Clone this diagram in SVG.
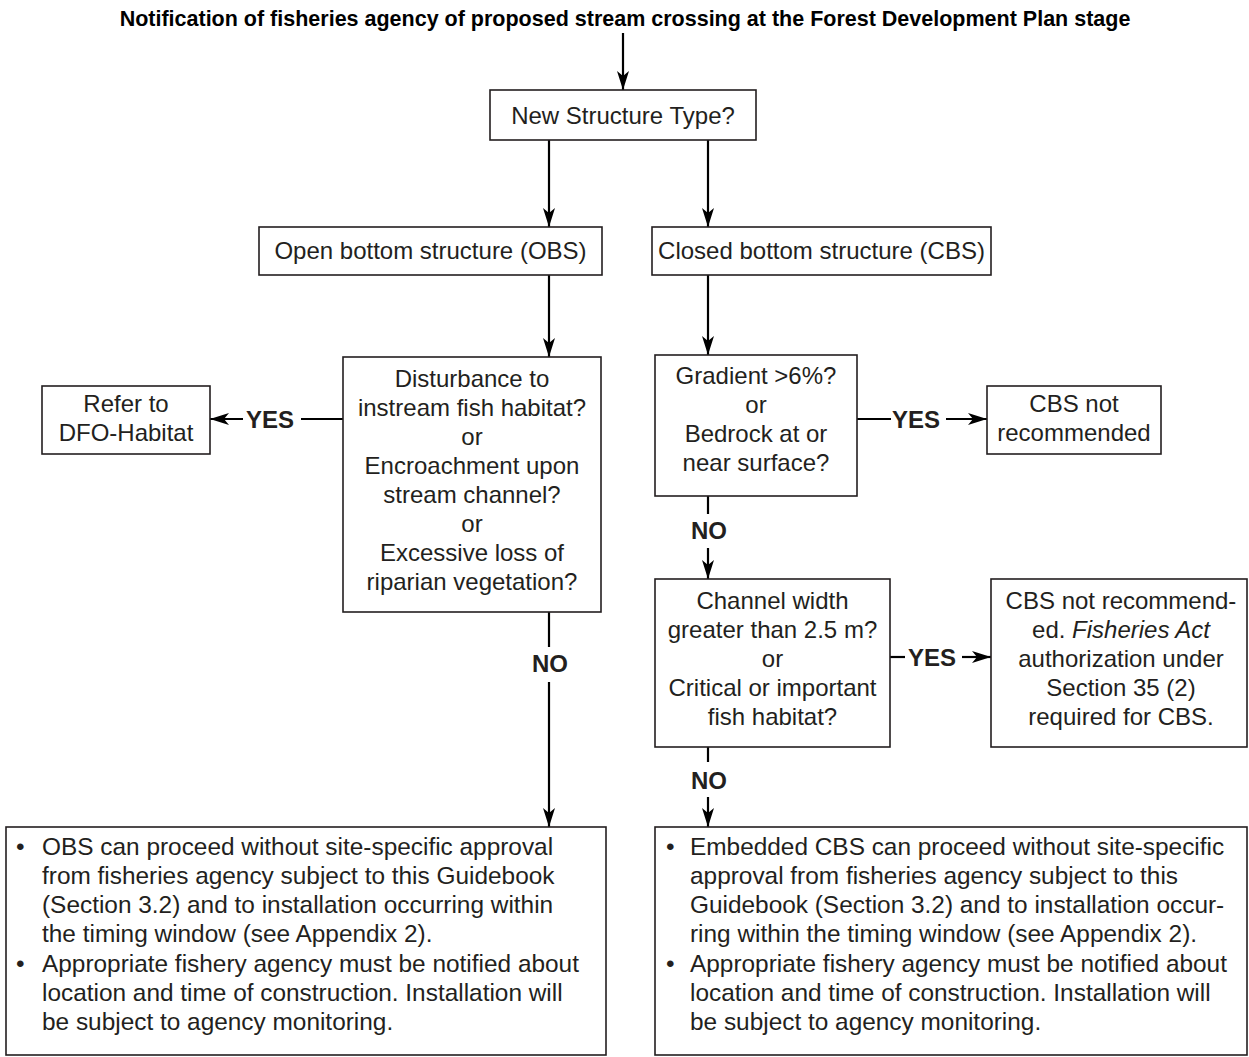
<svg xmlns="http://www.w3.org/2000/svg" width="1249" height="1057" viewBox="0 0 1249 1057">
<style>
.box{fill:#fff;stroke:#231f20;stroke-width:1.6}
.t{font-family:"Liberation Sans",Arial,Helvetica,sans-serif;font-size:24px;fill:#231f20}
.bt{font-size:24.4px}
.c{text-anchor:middle}
.b{font-weight:bold}
.ttl{font-family:"Liberation Sans",Arial,Helvetica,sans-serif;font-size:21.5px;font-weight:bold;fill:#000;text-anchor:middle}
.ln{stroke:#000;stroke-width:2.2;fill:none}
.ar{stroke:#000;stroke-width:2.2;fill:none;marker-end:url(#ah)}
</style>
<defs>
<marker id="ah" markerUnits="userSpaceOnUse" markerWidth="24" markerHeight="14" viewBox="-20 -7 22 14" refX="0" refY="0" orient="auto">
<path d="M0,0 L-19,-6 L-14,0 L-19,6 Z" fill="#000"/>
</marker>
</defs>
<rect width="1249" height="1057" fill="#fff"/>
<text class="ttl" x="625" y="26">Notification of fisheries agency of proposed stream crossing at the Forest Development Plan stage</text>

<g id="connectors">
<line class="ar" x1="623" y1="33" x2="623" y2="90"/>
<line class="ar" x1="549" y1="140" x2="549" y2="227"/>
<line class="ar" x1="708" y1="140" x2="708" y2="227"/>
<line class="ar" x1="549" y1="275" x2="549" y2="357"/>
<line class="ar" x1="708" y1="275" x2="708" y2="355"/>
<line class="ln" x1="343" y1="419" x2="301" y2="419"/>
<text class="t b c" x="270" y="428">YES</text>
<line class="ar" x1="243" y1="419" x2="210" y2="419"/>
<line class="ln" x1="857" y1="419" x2="891" y2="419"/>
<text class="t b c" x="916" y="428">YES</text>
<line class="ar" x1="946" y1="419" x2="987" y2="419"/>
<line class="ln" x1="708" y1="496" x2="708" y2="514"/>
<text class="t b c" x="709" y="539">NO</text>
<line class="ar" x1="708" y1="548" x2="708" y2="579"/>
<line class="ln" x1="890" y1="657" x2="905" y2="657"/>
<text class="t b c" x="932" y="666">YES</text>
<line class="ar" x1="962" y1="657" x2="991" y2="657"/>
<line class="ln" x1="708" y1="747" x2="708" y2="762"/>
<text class="t b c" x="709" y="789">NO</text>
<line class="ar" x1="708" y1="797" x2="708" y2="827"/>
<line class="ln" x1="549" y1="612" x2="549" y2="647"/>
<text class="t b c" x="550" y="672">NO</text>
<line class="ar" x1="549" y1="682" x2="549" y2="827"/>
</g>

<g id="n-newtype">
<rect class="box" x="490" y="90" width="266" height="50"/>
<text class="t c" x="623" y="124">New Structure Type?</text>
</g>

<g id="n-obs">
<rect class="box" x="259" y="227" width="343" height="48"/>
<text class="t c" x="430.5" y="259">Open bottom structure (OBS)</text>
</g>

<g id="n-cbs">
<rect class="box" x="652" y="227" width="339" height="48"/>
<text class="t c" x="821.5" y="259">Closed bottom structure (CBS)</text>
</g>

<g id="n-disturbance">
<rect class="box" x="343" y="357" width="258" height="255"/>
<text class="t c" x="472" y="387">Disturbance to</text>
<text class="t c" x="472" y="416">instream fish habitat?</text>
<text class="t c" x="472" y="445">or</text>
<text class="t c" x="472" y="474">Encroachment upon</text>
<text class="t c" x="472" y="503">stream channel?</text>
<text class="t c" x="472" y="532">or</text>
<text class="t c" x="472" y="561">Excessive loss of</text>
<text class="t c" x="472" y="590">riparian vegetation?</text>
</g>

<g id="n-refer">
<rect class="box" x="42" y="386" width="168" height="68"/>
<text class="t c" x="126" y="412">Refer to</text>
<text class="t c" x="126" y="441">DFO-Habitat</text>
</g>

<g id="n-gradient">
<rect class="box" x="655" y="355" width="202" height="141"/>
<text class="t c" x="756" y="384">Gradient &gt;6%?</text>
<text class="t c" x="756" y="413">or</text>
<text class="t c" x="756" y="442">Bedrock at or</text>
<text class="t c" x="756" y="471">near surface?</text>
</g>

<g id="n-cbsnot1">
<rect class="box" x="987" y="386" width="174" height="68"/>
<text class="t c" x="1074" y="412">CBS not</text>
<text class="t c" x="1074" y="441">recommended</text>
</g>

<g id="n-channel">
<rect class="box" x="655" y="579" width="235" height="168"/>
<text class="t c" x="772.5" y="609">Channel width</text>
<text class="t c" x="772.5" y="638">greater than 2.5 m?</text>
<text class="t c" x="772.5" y="667">or</text>
<text class="t c" x="772.5" y="696">Critical or important</text>
<text class="t c" x="772.5" y="725">fish habitat?</text>
</g>

<g id="n-cbsnot2">
<rect class="box" x="991" y="579" width="256" height="168"/>
<text class="t c" x="1121" y="609">CBS not recommend-</text>
<text class="t c" x="1121" y="638">ed. <tspan font-style="italic">Fisheries Act</tspan></text>
<text class="t c" x="1121" y="667">authorization under</text>
<text class="t c" x="1121" y="696">Section 35 (2)</text>
<text class="t c" x="1121" y="725">required for CBS.</text>
</g>

<g id="n-obs-result">
<rect class="box" x="6" y="827" width="600" height="228"/>
<text class="t bt" x="16" y="855">•</text>
<text class="t bt" x="42" y="855">OBS can proceed without site-specific approval</text>
<text class="t bt" x="42" y="884">from fisheries agency subject to this Guidebook</text>
<text class="t bt" x="42" y="913">(Section 3.2) and to installation occurring within</text>
<text class="t bt" x="42" y="942">the timing window (see Appendix 2).</text>
<text class="t bt" x="16" y="972">•</text>
<text class="t bt" x="42" y="972">Appropriate fishery agency must be notified about</text>
<text class="t bt" x="42" y="1001">location and time of construction. Installation will</text>
<text class="t bt" x="42" y="1030">be subject to agency monitoring.</text>
</g>

<g id="n-cbs-result">
<rect class="box" x="655" y="827" width="592" height="228"/>
<text class="t bt" x="666" y="855">•</text>
<text class="t bt" x="690" y="855">Embedded CBS can proceed without site-specific</text>
<text class="t bt" x="690" y="884">approval from fisheries agency subject to this</text>
<text class="t bt" x="690" y="913">Guidebook (Section 3.2) and to installation occur-</text>
<text class="t bt" x="690" y="942">ring within the timing window (see Appendix 2).</text>
<text class="t bt" x="666" y="972">•</text>
<text class="t bt" x="690" y="972">Appropriate fishery agency must be notified about</text>
<text class="t bt" x="690" y="1001">location and time of construction. Installation will</text>
<text class="t bt" x="690" y="1030">be subject to agency monitoring.</text>
</g>
</svg>
